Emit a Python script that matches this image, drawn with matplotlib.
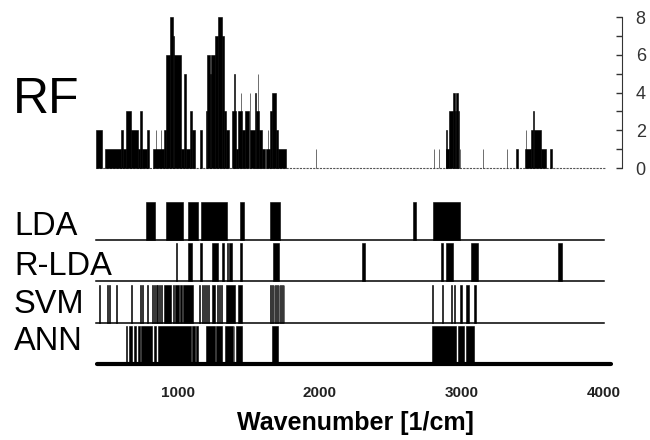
import matplotlib
matplotlib.use("Agg")
from matplotlib import pyplot as plt

plt.rcParams['font.family'] = ['Liberation Sans', 'DejaVu Sans']

# RF: (start, end, count) in wavenumber
rf_start = [423, 486, 600, 612, 634, 669, 718, 732, 746, 782, 824, 843, 878, 901, 915, 944, 965, 972,
            1020, 1042, 1056, 1085, 1099, 1155, 1195, 1204, 1225, 1235, 1260, 1282, 1310, 1324, 1338,
            1380, 1398, 1408, 1422, 1441, 1451, 1475, 1505, 1509, 1545, 1553, 1561, 1568, 1590, 1620,
            1632, 1650, 1660, 1690, 1708, 1972, 2803, 2838, 2887, 2893, 2908, 2937, 2951, 2958, 2972,
            2986, 3148, 3317, 3387, 3444, 3451, 3486, 3500, 3514, 3563, 3620]
rf_end = [465, 600, 612, 634, 669, 718, 732, 746, 782, 796, 901, 848, 883, 915, 944, 965, 972, 1020,
          1042, 1056, 1085, 1099, 1120, 1169, 1204, 1225, 1235, 1260, 1282, 1310, 1324, 1338, 1359,
          1408, 1402, 1422, 1451, 1447, 1475, 1500, 1509, 1540, 1553, 1568, 1565, 1590, 1612, 1650,
          1636, 1660, 1690, 1708, 1762, 1976, 2807, 2842, 2908, 2897, 2937, 2951, 2958, 2972, 2979,
          2990, 3152, 3321, 3401, 3486, 3455, 3500, 3514, 3563, 3592, 3634]
rf_count = [2, 1, 2, 1, 3, 2, 1, 3, 1, 2, 1, 2, 2, 2, 6, 8, 7, 6,
            1, 5, 1, 3, 2, 2, 3, 6, 5, 6, 7, 8, 7, 3, 2,
            3, 5, 1, 3, 4, 2, 3, 4, 2, 4, 3, 5, 2, 1, 1,
            2, 3, 4, 2, 1, 1, 1, 1, 1, 2, 3, 4, 3, 4, 3,
            1, 1, 1, 1, 1, 2, 2, 3, 2, 1, 1]

# selected regions per classifier (start, end)
lda = [(775, 838), (915, 1035), (1070, 1141), (1162, 1345), (1437, 1465), (1648, 1718),
       (2655, 2676), (2796, 2986)]
rlda = [(986, 993), (1070, 1099), (1155, 1169), (1239, 1282), (1310, 1324), (1345, 1352),
        (1359, 1380), (1437, 1451), (1669, 1711), (2296, 2317), (2852, 2866), (2887, 2937),
        (3063, 3113), (3683, 3711)]
svm = [(444, 450), (500, 506), (514, 519), (563, 569), (669, 675), (732, 740), (746, 752),
       (782, 788), (817, 822), (831, 836), (845, 850), (855, 860), (866, 871), (880, 885),
       (901, 951), (965, 975), (980, 1007), (1014, 1028), (1035, 1106), (1148, 1155),
       (1169, 1176), (1183, 1190), (1197, 1204), (1211, 1216), (1239, 1260), (1275, 1280),
       (1288, 1293), (1300, 1310), (1338, 1401), (1422, 1451), (1650, 1655), (1662, 1667),
       (1674, 1679), (1686, 1691), (1698, 1703), (1710, 1715), (1722, 1727), (1734, 1739),
       (1746, 1751), (2789, 2796), (2859, 2866), (2922, 2929), (2943, 2950), (2986, 3000),
       (3028, 3049), (3085, 3099)]
ann = [(634, 641), (655, 676), (690, 704), (718, 732), (739, 817), (831, 845), (859, 1092),
       (1099, 1120), (1127, 1141), (1197, 1260), (1268, 1310), (1331, 1387), (1394, 1398),
       (1408, 1451), (1662, 1704), (2789, 2958), (2972, 3014), (3028, 3085)]

rows = [ann, svm, rlda, lda]
row_names = ['ANN', 'SVM', 'R-LDA', 'LDA']
xticks = [1000, 2000, 3000, 4000]

W, H = 650, 440
fig = plt.figure(figsize=(6.5, 4.4), dpi=100)

def box(x0, y0, x1, y1):
    return [x0 / W, 1 - y1 / H, (x1 - x0) / W, (y1 - y0) / H]

xmin, xmax = 400, 4100
px_left = 178 + (xmin - 1000) * 0.1418
px_right = 178 + (xmax - 1000) * 0.1418

# --- RF panel
ax1 = fig.add_axes(box(px_left, 10, px_right, 180))
ax1.set_xlim(xmin, xmax)
ax1.set_ylim(-(180 - 168) / 18.85, 8 + (17.2 - 10) / 18.85)
ax1.plot([423, 4020], [0, 0], color='#555555', lw=0.8, ls=(0, (2, 1)), zorder=1)
ax1.bar(rf_start, rf_count, width=[e - s for s, e in zip(rf_start, rf_end)], align='edge',
        color='black', edgecolor='black', linewidth=0.4, zorder=2)
for s in ['top', 'left', 'bottom']:
    ax1.spines[s].set_visible(False)
ax1.spines['right'].set_position(('data', 4130))
ax1.spines['right'].set_bounds(0, 8)
ax1.spines['right'].set_color('#333333')
ax1.yaxis.tick_right()
ax1.set_yticks(range(9))
ax1.set_yticklabels([str(v) if v % 2 == 0 else '' for v in range(9)])
ax1.tick_params(axis='y', direction='in', length=4, width=1, colors='#333333',
                labelsize=13, pad=10)
ax1.set_xticks([])

# --- classifier rows
unit = 41.3
ax2 = fig.add_axes(box(px_left, 198, px_right, 372))
ax2.set_xlim(xmin, xmax)
ax2.set_ylim(-(372 - 364) / unit, 3 + (364 - 3 * unit - 198) / unit)
for i, segs in enumerate(rows):
    ax2.bar([s for s, e in segs], 0.92, width=[e - s for s, e in segs], bottom=i,
            align='edge', color='black', edgecolor='black', linewidth=0.4)
    if i > 0:
        ax2.plot([423, 4006], [i, i], color='black', lw=1.1)
ax2.plot([430, 4053], [0, 0], color='black', lw=3, solid_capstyle='round')
for s in ax2.spines.values():
    s.set_visible(False)
ax2.set_yticks([])
ax2.set_xticks(xticks)
ax2.tick_params(axis='x', length=0, labelsize=11, pad=10, labelcolor='#222222')
for lab in ax2.get_xticklabels():
    lab.set_fontweight('bold')
ax2.set_xlabel('Wavenumber [1/cm]', fontsize=18, fontweight='bold', labelpad=8)

# method labels
fig.text(13 / W, 1 - 113 / H, 'RF', fontsize=36, va='baseline', ha='left')
for name, base in zip(row_names, [350, 313, 275, 235]):
    fig.text(14 / W, 1 - base / H, name, fontsize=23.5, va='baseline', ha='left')

fig.savefig('out.png', dpi=100)
